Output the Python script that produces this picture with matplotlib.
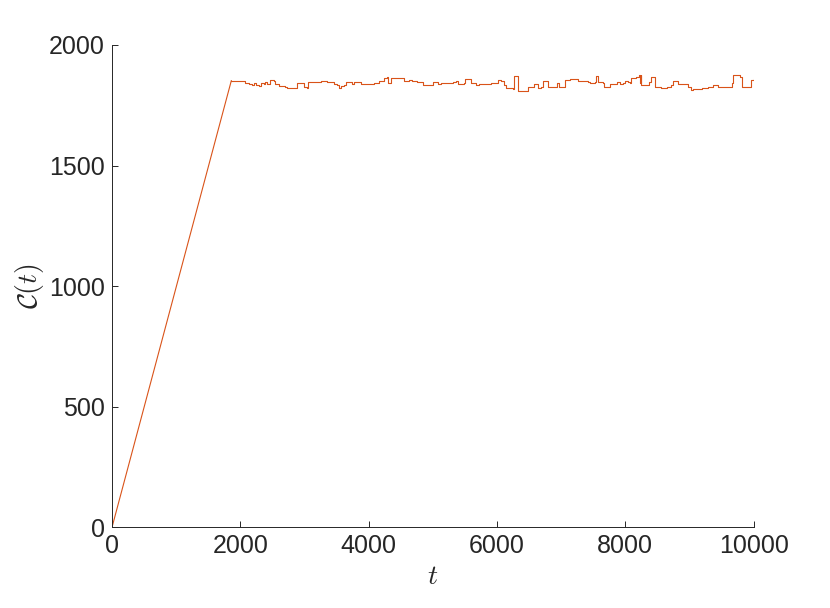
import matplotlib
matplotlib.use('Agg')
import matplotlib.pyplot as plt

plt.rcParams['font.family'] = ['Liberation Sans', 'DejaVu Sans']
plt.rcParams['mathtext.fontset'] = 'cm'

# C(t): linear growth, then a noisy plateau
t = [0, 1859, 2078, 2130, 2182, 2208, 2245, 2286, 2323, 2365, 2391, 2417,
     2469, 2521, 2547, 2599, 2651, 2703, 2729, 2807, 2859, 2885, 2964, 2990,
     3031, 3052, 3250, 3354, 3458, 3510, 3536, 3563, 3615, 3641, 3693, 3745,
     3771, 3823, 3875, 3979, 4083, 4161, 4239, 4292, 4307, 4344, 4500,
     4552, 4630, 4682, 4760, 4839, 4854, 4969, 4995, 5047, 5073, 5125, 5203,
     5307, 5359, 5385, 5490, 5500, 5568, 5594, 5672, 5724, 5854, 5906, 5984,
     6010, 6063, 6115, 6141, 6245, 6260, 6313, 6323, 6453, 6479, 6557, 6583,
     6635, 6646, 6688, 6714, 6766, 6792, 6922, 6938, 6974, 7052, 7063, 7130,
     7260, 7417, 7443, 7521, 7547, 7573, 7651, 7667, 7729, 7755, 7833, 7875,
     7911, 7964, 7990, 8042, 8068, 8083, 8172, 8208, 8224, 8240, 8250, 8328,
     8365, 8396, 8432, 8458, 8563, 8656, 8719, 8745, 8797, 8823, 8979, 9016,
     9057, 9161, 9188, 9292, 9370, 9448, 9604, 9656, 9682, 9734, 9786, 9813,
     9943, 9958, 10000]
c = [0, 1852, 1844, 1837, 1834, 1844, 1834, 1831, 1841, 1837, 1845, 1838,
     1855, 1851, 1838, 1830, 1830, 1827, 1823, 1820, 1823, 1841, 1841, 1827,
     1823, 1848, 1852, 1845, 1838, 1834, 1820, 1830, 1834, 1845, 1848, 1838,
     1845, 1848, 1837, 1838, 1844, 1852, 1862, 1866, 1841, 1862, 1862,
     1852, 1855, 1852, 1848, 1844, 1834, 1834, 1848, 1848, 1838, 1844, 1844,
     1848, 1852, 1838, 1841, 1858, 1859, 1841, 1834, 1838, 1838, 1841, 1844,
     1855, 1852, 1834, 1820, 1816, 1872, 1872, 1810, 1809, 1824, 1824, 1838,
     1838, 1820, 1827, 1852, 1852, 1827, 1827, 1844, 1827, 1827, 1855, 1858,
     1852, 1848, 1841, 1848, 1872, 1848, 1841, 1824, 1824, 1837, 1838, 1848,
     1838, 1841, 1852, 1848, 1844, 1862, 1869, 1876, 1841, 1876, 1834, 1834,
     1848, 1866, 1866, 1824, 1820, 1824, 1834, 1852, 1852, 1838, 1824, 1812,
     1816, 1816, 1820, 1824, 1834, 1827, 1824, 1841, 1876, 1876, 1866, 1824,
     1824, 1855, 1858]

fig = plt.figure(figsize=(8.3, 6.08), dpi=100)
ax = fig.add_axes([0.135, 0.133, 0.773, 0.793])

color = '#D95319'
# ramp drawn straight, plateau drawn as steps
ax.plot(t[:2], c[:2], color=color, linewidth=0.8)
ax.plot(t[1:], c[1:], color=color, linewidth=0.8, drawstyle='steps-post')

ax.set_xlim(0, 10000)
ax.set_ylim(0, 2000)
ax.set_xticks([0, 2000, 4000, 6000, 8000, 10000])
ax.set_yticks([0, 500, 1000, 1500, 2000])

for side in ['top', 'right']:
    ax.spines[side].set_visible(False)
for side in ['left', 'bottom']:
    ax.spines[side].set_color('#262626')
    ax.spines[side].set_linewidth(0.7)
ax.tick_params(direction='in', length=4.5, width=0.7, color='#262626',
               labelcolor='#262626', labelsize=18, pad=5)

ax.set_xlabel(r'$t$', fontsize=20, color='#262626', labelpad=4)
ax.set_ylabel(r'$\mathcal{C}(t)$', fontsize=20, color='#262626', labelpad=2)

fig.savefig('out.png', dpi=100)
